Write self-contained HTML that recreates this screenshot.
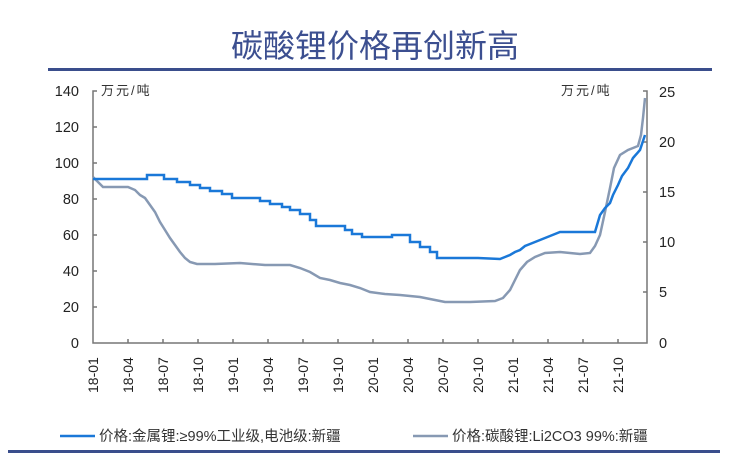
<!DOCTYPE html>
<html><head><meta charset="utf-8"><style>
body{margin:0;background:#fff;width:733px;height:455px;overflow:hidden}
svg text{font-family:"Liberation Sans","Noto Sans CJK SC",sans-serif}
</style></head><body>
<svg width="733" height="455" viewBox="0 0 733 455">
<rect width="733" height="455" fill="#fff"/>
<text x="375" y="57" font-size="32" fill="#3c4f90" text-anchor="middle" font-family="'Noto Sans CJK SC',sans-serif">碳酸锂价格再创新高</text>
<rect x="48" y="68" width="664" height="3" fill="#3a4e8c"/>
<rect x="8" y="450" width="712" height="3" fill="#3a4e8c"/>
<g stroke="#777" stroke-width="1.5" fill="none">
<path d="M97,91H93V343H647V91H643"/>
<path d="M93,127h4M93,163h4M93,199h4M93,235h4M93,271h4M93,307h4"/>
<path d="M647,142h-4M647,192h-4M647,242h-4M647,292h-4"/>
<path d="M128,343v-4M163,343v-4M198,343v-4M233,343v-4M268,343v-4M303,343v-4M338,343v-4M373,343v-4M408,343v-4M443,343v-4M478,343v-4M513,343v-4M548,343v-4M583,343v-4M618,343v-4"/>
</g>
<g font-size="14.5" fill="#222" text-anchor="end">
<text x="79" y="96">140</text><text x="79" y="132">120</text><text x="79" y="168">100</text><text x="79" y="204">80</text><text x="79" y="240">60</text><text x="79" y="276">40</text><text x="79" y="312">20</text><text x="79" y="348">0</text>
</g>
<g font-size="14.5" fill="#222">
<text x="659" y="97">25</text><text x="659" y="147">20</text><text x="659" y="197">15</text><text x="659" y="247">10</text><text x="659" y="297">5</text><text x="659" y="348">0</text>
</g>
<g font-size="13" fill="#333" font-family="'Noto Serif CJK SC',serif" letter-spacing="2">
<text x="101" y="95">万元/吨</text><text x="561" y="95">万元/吨</text>
</g>
<g font-size="14" fill="#222">
<text transform="translate(98,393) rotate(-90)">18-01</text>
<text transform="translate(133,393) rotate(-90)">18-04</text>
<text transform="translate(168,393) rotate(-90)">18-07</text>
<text transform="translate(203,393) rotate(-90)">18-10</text>
<text transform="translate(238,393) rotate(-90)">19-01</text>
<text transform="translate(273,393) rotate(-90)">19-04</text>
<text transform="translate(308,393) rotate(-90)">19-07</text>
<text transform="translate(343,393) rotate(-90)">19-10</text>
<text transform="translate(378,393) rotate(-90)">20-01</text>
<text transform="translate(413,393) rotate(-90)">20-04</text>
<text transform="translate(448,393) rotate(-90)">20-07</text>
<text transform="translate(483,393) rotate(-90)">20-10</text>
<text transform="translate(518,393) rotate(-90)">21-01</text>
<text transform="translate(553,393) rotate(-90)">21-04</text>
<text transform="translate(588,393) rotate(-90)">21-07</text>
<text transform="translate(623,393) rotate(-90)">21-10</text>
</g>
<path fill="none" stroke="#8799b3" stroke-width="2.5" d="M93,177L100,184L103,187H128L135,190L140,195L145,198L150,205L155,212L160,222L165,230L170,238L175,245L180,252L185,258L190,262L197,264H215L240,263L265,265L290,265L300,268L310,272L320,278L330,280L340,283L350,285L360,288L370,292L385,294L400,295L420,297L435,300L445,302L470,302L495,301L503,298L510,290L515,280L520,270L527,262L535,257L545,253L560,252L580,254L590,253L595,246L600,235L605,212L610,188L614,168L620,155L628,150L638,146L641,135L643,118L645,98"/>
<path fill="none" stroke="#1a78d8" stroke-width="2.5" d="M93,179H147V175H164V179H177V182H190V185H200V188H210V191H222V194H232V198H260V201H270V204H282V207H290V210H300V214H310V220H316V226H345V230H352V234H362V237H392V235H410V242H420V247H430V252H437V258H478L500,259L505,257L510,255L515,252L520,250L525,246L530,244L540,240L550,236L560,232H595L600,215L605,208L610,203L613,195L618,185L622,176L628,168L633,158L640,150L645,135"/>
<line x1="60" y1="436" x2="95" y2="436" stroke="#1a78d8" stroke-width="2.5"/>
<text x="99" y="441" font-size="14.5" fill="#333">价格:金属锂:≥99%工业级,电池级:新疆</text>
<line x1="413" y1="436" x2="448" y2="436" stroke="#8799b3" stroke-width="2.5"/>
<text x="452" y="441" font-size="14.5" fill="#333">价格:碳酸锂:Li2CO3 99%:新疆</text>
</svg>
</body></html>
